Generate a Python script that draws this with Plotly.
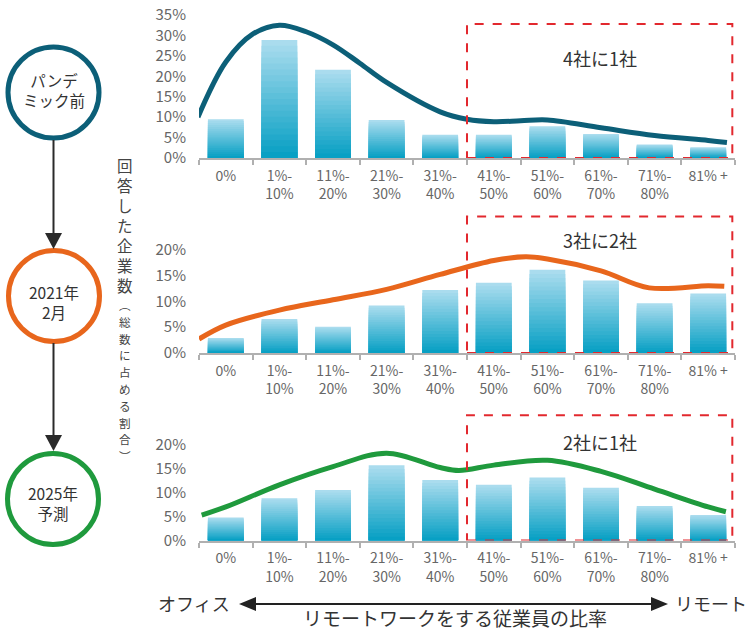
import plotly.graph_objects as go

# ---------------- data ----------------
categories = ["0%", "1%-10%", "11%-20%", "21%-30%", "31%-40%",
              "41%-50%", "51%-60%", "61%-70%", "71%-80%", "81% +"]
tick_labels = ["0%", "1%-<br>10%", "11%-<br>20%", "21%-<br>30%", "31%-<br>40%",
               "41%-<br>50%", "51%-<br>60%", "61%-<br>70%", "71%-<br>80%", "81% +"]

bars_pre = [9.5, 28.9, 21.6, 9.3, 5.7, 5.7, 7.8, 5.9, 3.3, 2.6]
bars_2021 = [2.9, 6.6, 5.1, 9.2, 12.2, 13.6, 16.1, 14.0, 9.6, 11.5]
bars_2025 = [4.8, 8.8, 10.5, 15.7, 12.6, 11.6, 13.1, 11.0, 7.2, 5.3]

curve_pre_x = [-0.52, 0, 0.5, 1, 1.5, 2, 2.5, 3, 4, 4.5, 5, 5.5, 6, 7, 8, 9, 9.35]
curve_pre_y = [10.0, 23.5, 30.3, 32.5, 30.9, 27.7, 23.2, 18.5, 11.3, 9.5, 8.9, 9.1, 9.3, 7.4, 5.5, 4.3, 3.8]

curve_2021_x = [-0.5, 0, 1, 2, 3, 4, 5, 5.6, 6, 7, 7.9, 9, 9.3]
curve_2021_y = [2.7, 5.4, 8.3, 10.3, 12.3, 15.2, 17.9, 18.6, 18.2, 15.9, 12.6, 13.0, 12.9]

curve_2025_x = [-0.45, 0, 1, 2, 3, 4, 4.35, 5, 6, 7, 8, 9, 9.33]
curve_2025_y = [5.3, 7.0, 11.6, 15.4, 18.2, 15.2, 14.6, 15.7, 16.7, 14.4, 10.7, 7.0, 6.0]

stage_labels = ["パンデ<br>ミック前", "2021年<br>2月", "2025年<br>予測"]
box_labels = ["4社に1社", "3社に2社", "2社に1社"]
axis_title_main = "回答した企業数"
axis_title_sub = "︵総数に占める割合︶"

# ---------------- styling ----------------
W, H = 750, 631
FONT = "Noto Sans CJK JP"
BAR_TOP_RGB = (170, 220, 238)
BAR_BOTTOM_RGB = (8, 160, 196)
N_LAYERS = 20
LINE_COLORS = ["#0c5f78", "#e8661c", "#1f9a3d"]
RED = "#e2282e"
AXIS_GRAY = "#b0b0b0"
TICK_GRAY = "#666666"


def px(x):
    return x / W


def py(y):
    return 1 - y / H


def mix(t):
    r = [round(a + (b - a) * t) for a, b in zip(BAR_TOP_RGB, BAR_BOTTOM_RGB)]
    return f"rgb({r[0]},{r[1]},{r[2]})"


panels = [
    dict(bars=bars_pre, cx=curve_pre_x, cy=curve_pre_y, zero=158.0, ppu=4.086,
         top=36, yticks=[0, 5, 10, 15, 20, 25, 30, 35], box_top=32.8, label_y=58),
    dict(bars=bars_2021, cx=curve_2021_x, cy=curve_2021_y, zero=353.0, ppu=5.17,
         top=27, yticks=[0, 5, 10, 15, 20], box_top=26.4, label_y=240),
    dict(bars=bars_2025, cx=curve_2025_x, cy=curve_2025_y, zero=540.5, ppu=4.8,
         top=27, yticks=[0, 5, 10, 15, 20], box_top=26.1, label_y=442),
]

X_LEFT, X_RIGHT = 199.0, 735.0

fig = go.Figure()
layout_axes = {}
shapes = []
annotations = []

for i, p in enumerate(panels):
    n = "" if i == 0 else str(i + 1)
    xa, ya = "x" + n, "y" + n
    xs = list(range(len(categories)))
    # bars drawn as overlaid layers (full height first) to imitate the vertical colour gradient
    for k in range(N_LAYERS):
        frac = 1 - k / N_LAYERS
        fig.add_trace(go.Bar(x=xs, y=[v * frac for v in p["bars"]], width=0.667,
                             marker=dict(color=mix(k / (N_LAYERS - 1)), line=dict(width=0)),
                             xaxis=xa, yaxis=ya, hoverinfo="skip"))
    fig.add_trace(go.Scatter(x=p["cx"], y=p["cy"], mode="lines",
                             line=dict(color=LINE_COLORS[i], width=5, shape="spline", smoothing=1.0),
                             cliponaxis=False, xaxis=xa, yaxis=ya, hoverinfo="skip"))
    top_px = p["zero"] - p["top"] * p["ppu"]
    layout_axes["xaxis" + n] = dict(
        domain=[px(X_LEFT), px(X_RIGHT)], range=[-0.5, 9.5], anchor=ya,
        tickmode="array", tickvals=xs, ticktext=tick_labels,
        showline=True, linecolor=AXIS_GRAY, linewidth=2,
        ticks="outside", ticklen=4, tickcolor="rgba(0,0,0,0)",
        minor=dict(tickmode="array", tickvals=[k - 0.5 for k in range(11)],
                   ticks="outside", ticklen=5, tickwidth=2, tickcolor=AXIS_GRAY),
        showgrid=False, zeroline=False, automargin=False,
        tickfont=dict(family=FONT, size=14, color=TICK_GRAY),
        fixedrange=True,
    )
    layout_axes["yaxis" + n] = dict(
        domain=[py(p["zero"]), py(top_px)], range=[0, p["top"]], anchor=xa,
        tickmode="array", tickvals=p["yticks"], ticktext=[f"{v}%" for v in p["yticks"]],
        showline=False, showgrid=False, zeroline=False, ticks="", automargin=False,
        ticklabelstandoff=12,
        tickfont=dict(family=FONT, size=15, color=TICK_GRAY),
        fixedrange=True,
    )
    shapes.append(dict(type="rect", xref=xa, yref=ya, x0=4.5, x1=9.45, y0=0, y1=p["box_top"],
                       line=dict(color=RED, width=2, dash="dash"), layer="above"))
    annotations.append(dict(x=px(600), y=py(p["label_y"]), text=box_labels[i],
                            font=dict(family=FONT, size=18, color="#333333")))

# stage circles
circle_centers = [(53.5, 92.5), (54.0, 296.0), (53.0, 499.0)]
text_centers = [90.0, 302.0, 502.5]
R = 45.5
for i, (cx, cy) in enumerate(circle_centers):
    shapes.append(dict(type="circle", xref="paper", yref="paper",
                       x0=px(cx - R), x1=px(cx + R), y0=py(cy + R), y1=py(cy - R),
                       line=dict(color=LINE_COLORS[i], width=5), fillcolor="white"))
    annotations.append(dict(x=px(cx), y=py(text_centers[i]), text=stage_labels[i],
                            font=dict(family=FONT, size=15.5, color="#333333")))

# vertical arrows between circles
for (y_start, y_tip) in [(140, 249), (343, 451)]:
    xm = 53.5
    shapes.append(dict(type="line", xref="paper", yref="paper",
                       x0=px(xm), x1=px(xm), y0=py(y_start), y1=py(y_tip - 12),
                       line=dict(color="#2a2a2a", width=2)))
    shapes.append(dict(type="path", xref="paper", yref="paper",
                       path=f"M {px(xm - 8.5)} {py(y_tip - 16)} L {px(xm + 8.5)} {py(y_tip - 16)} L {px(xm)} {py(y_tip)} Z",
                       fillcolor="#2a2a2a", line=dict(width=0)))

# bottom double arrow
ay = 604
shapes.append(dict(type="line", xref="paper", yref="paper",
                   x0=px(252), x1=px(655), y0=py(ay), y1=py(ay),
                   line=dict(color="#222222", width=2)))
shapes.append(dict(type="path", xref="paper", yref="paper",
                   path=f"M {px(239)} {py(ay)} L {px(256)} {py(ay - 7)} L {px(256)} {py(ay + 7)} Z",
                   fillcolor="#222222", line=dict(width=0)))
shapes.append(dict(type="path", xref="paper", yref="paper",
                   path=f"M {px(668)} {py(ay)} L {px(651)} {py(ay - 7)} L {px(651)} {py(ay + 7)} Z",
                   fillcolor="#222222", line=dict(width=0)))

annotations += [
    dict(x=px(194), y=py(603), text="オフィス", font=dict(family=FONT, size=18, color="#333333")),
    dict(x=px(711), y=py(603), text="リモート", font=dict(family=FONT, size=18, color="#333333")),
    dict(x=px(455), y=py(617), text="リモートワークをする従業員の比率",
         font=dict(family=FONT, size=19, color="#333333")),
]

# vertical axis title, one character per annotation
for j, ch in enumerate(axis_title_main):
    annotations.append(dict(x=px(125), y=py(165 + j * 20.0), text=ch,
                            font=dict(family=FONT, size=15.5, color="#444444")))
for j, ch in enumerate(axis_title_sub):
    annotations.append(dict(x=px(125), y=py(305 + j * 16.8), text=ch,
                            font=dict(family=FONT, size=11.6, color="#444444")))

for a in annotations:
    a.setdefault("xref", "paper")
    a.setdefault("yref", "paper")
    a.setdefault("showarrow", False)
    a.setdefault("xanchor", "center")
    a.setdefault("yanchor", "middle")

fig.update_layout(
    width=W, height=H, margin=dict(l=0, r=0, t=0, b=0, pad=0),
    paper_bgcolor="white", plot_bgcolor="white",
    showlegend=False, barmode="overlay",
    font=dict(family=FONT),
    shapes=shapes, annotations=annotations,
    **layout_axes,
)

fig.write_html(
    "out.html",
    config={"displayModeBar": False},
    post_script=("document.body.style.margin='0';document.body.style.padding='0';"
                 "document.documentElement.style.margin='0';"
                 "document.documentElement.style.overflow='hidden';"),
)
